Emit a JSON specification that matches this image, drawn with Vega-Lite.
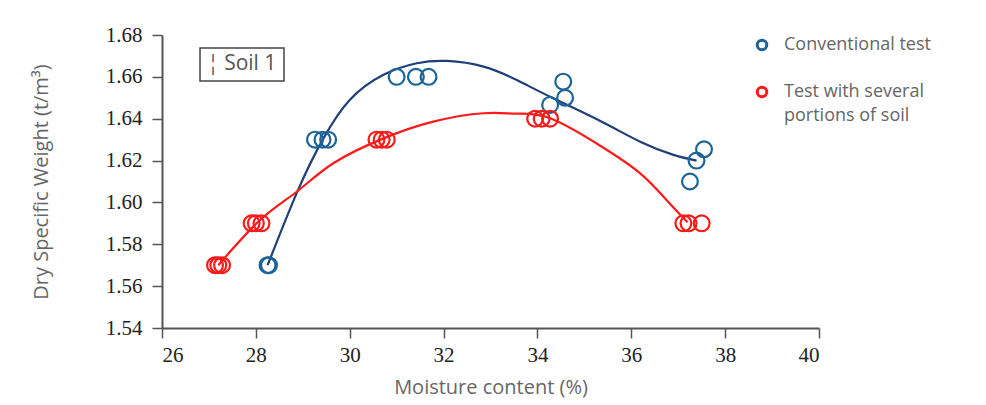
{
  "$schema": "https://vega.github.io/schema/vega-lite/v6.json",
  "width": 657,
  "height": 293,
  "autosize": "none",
  "padding": {"left": 162, "top": 35, "right": 167, "bottom": 77},
  "background": "white",
  "config": {
    "view": {"stroke": null},
    "style": {"guide-label": {"lineHeight": 24}},
    "axis": {
      "grid": false,
      "domainColor": "#555555",
      "domainWidth": 2,
      "tickColor": "#555555",
      "tickWidth": 1.5,
      "tickSize": 10,
      "labelFont": "Liberation Serif",
      "labelFontSize": 21,
      "labelColor": "#222222",
      "titleFont": "Open Sans",
      "titleFontSize": 20,
      "titleFontWeight": "normal",
      "titleColor": "#666666"
    }
  },
  "datasets": {
    "pts": [
      {"m": 28.25, "w": 1.57, "s": "Conventional test"},
      {"m": 28.28, "w": 1.57, "s": "Conventional test"},
      {"m": 29.26, "w": 1.63, "s": "Conventional test"},
      {"m": 29.42, "w": 1.63, "s": "Conventional test"},
      {"m": 29.54, "w": 1.63, "s": "Conventional test"},
      {"m": 31.0, "w": 1.66, "s": "Conventional test"},
      {"m": 31.41, "w": 1.66, "s": "Conventional test"},
      {"m": 31.68, "w": 1.66, "s": "Conventional test"},
      {"m": 34.27, "w": 1.6466, "s": "Conventional test"},
      {"m": 34.55, "w": 1.6577, "s": "Conventional test"},
      {"m": 34.59, "w": 1.65, "s": "Conventional test"},
      {"m": 37.25, "w": 1.61, "s": "Conventional test"},
      {"m": 37.39, "w": 1.62, "s": "Conventional test"},
      {"m": 37.55, "w": 1.6254, "s": "Conventional test"},
      {"m": 27.13, "w": 1.57, "s": "Test with several portions of soil"},
      {"m": 27.2, "w": 1.57, "s": "Test with several portions of soil"},
      {"m": 27.28, "w": 1.57, "s": "Test with several portions of soil"},
      {"m": 27.91, "w": 1.59, "s": "Test with several portions of soil"},
      {"m": 28.0, "w": 1.59, "s": "Test with several portions of soil"},
      {"m": 28.12, "w": 1.59, "s": "Test with several portions of soil"},
      {"m": 30.57, "w": 1.63, "s": "Test with several portions of soil"},
      {"m": 30.68, "w": 1.63, "s": "Test with several portions of soil"},
      {"m": 30.79, "w": 1.63, "s": "Test with several portions of soil"},
      {"m": 33.95, "w": 1.64, "s": "Test with several portions of soil"},
      {"m": 34.09, "w": 1.64, "s": "Test with several portions of soil"},
      {"m": 34.27, "w": 1.64, "s": "Test with several portions of soil"},
      {"m": 37.11, "w": 1.59, "s": "Test with several portions of soil"},
      {"m": 37.22, "w": 1.59, "s": "Test with several portions of soil"},
      {"m": 37.5, "w": 1.59, "s": "Test with several portions of soil"}
    ],
    "curves": [
      {"m": 28.25, "w": 1.57, "c": "blue"},
      {"m": 28.9, "w": 1.606, "c": "blue"},
      {"m": 29.44, "w": 1.6306, "c": "blue"},
      {"m": 30.0, "w": 1.649, "c": "blue"},
      {"m": 30.72, "w": 1.661, "c": "blue"},
      {"m": 31.43, "w": 1.6665, "c": "blue"},
      {"m": 32.07, "w": 1.6676, "c": "blue"},
      {"m": 32.85, "w": 1.6649, "c": "blue"},
      {"m": 33.56, "w": 1.6585, "c": "blue"},
      {"m": 34.27, "w": 1.6505, "c": "blue"},
      {"m": 35.33, "w": 1.639, "c": "blue"},
      {"m": 36.19, "w": 1.629, "c": "blue"},
      {"m": 36.9, "w": 1.6227, "c": "blue"},
      {"m": 37.39, "w": 1.62, "c": "blue"},
      {"m": 27.2, "w": 1.57, "c": "red"},
      {"m": 28.09, "w": 1.5916, "c": "red"},
      {"m": 28.87, "w": 1.6051, "c": "red"},
      {"m": 29.65, "w": 1.6187, "c": "red"},
      {"m": 30.72, "w": 1.6306, "c": "red"},
      {"m": 31.78, "w": 1.6386, "c": "red"},
      {"m": 32.85, "w": 1.6426, "c": "red"},
      {"m": 33.56, "w": 1.6424, "c": "red"},
      {"m": 34.27, "w": 1.6402, "c": "red"},
      {"m": 35.33, "w": 1.6272, "c": "red"},
      {"m": 36.19, "w": 1.6139, "c": "red"},
      {"m": 36.75, "w": 1.6012, "c": "red"},
      {"m": 37.2, "w": 1.5905, "c": "red"}
    ],
    "label": [
      {"x1": 26.81, "x2": 28.6, "y1": 1.6738, "y2": 1.658, "xm": 27.7, "ym": 1.666, "t": "¦ Soil 1"}
    ]
  },
  "layer": [
    {
      "data": {"name": "label"},
      "mark": {"type": "rect", "fill": "white", "stroke": "#444444", "strokeWidth": 1.5},
      "encoding": {
        "x": {"field": "x1", "type": "quantitative", "scale": {"domain": [26, 40]}},
        "x2": {"field": "x2"},
        "y": {"field": "y1", "type": "quantitative", "scale": {"domain": [1.54, 1.68]}},
        "y2": {"field": "y2"}
      }
    },
    {
      "data": {"name": "label"},
      "mark": {"type": "text", "font": "Open Sans", "fontSize": 21, "color": "#555555"},
      "encoding": {
        "x": {"field": "xm", "type": "quantitative"},
        "y": {"field": "ym", "type": "quantitative"},
        "text": {"field": "t"}
      }
    },
    {
      "data": {"name": "curves"},
      "mark": {"type": "line", "interpolate": "natural", "strokeWidth": 2.2},
      "encoding": {
        "x": {"field": "m", "type": "quantitative"},
        "y": {"field": "w", "type": "quantitative"},
        "stroke": {
          "field": "c", "type": "nominal", "legend": null,
          "scale": {"domain": ["blue", "red"], "range": ["#1f3f7a", "#ff1a1a"]}
        }
      }
    },
    {
      "data": {"name": "pts"},
      "mark": {"type": "point", "shape": "circle", "filled": false, "size": 250, "strokeWidth": 2.2, "opacity": 1},
      "encoding": {
        "x": {
          "field": "m", "type": "quantitative",
          "scale": {"domain": [26, 40]},
          "axis": {"values": [26, 28, 30, 32, 34, 36, 38, 40], "title": "Moisture content (%)", "titlePadding": 12, "labelPadding": 6}
        },
        "y": {
          "field": "w", "type": "quantitative",
          "scale": {"domain": [1.54, 1.68], "zero": false},
          "axis": {"values": [1.54, 1.56, 1.58, 1.6, 1.62, 1.64, 1.66, 1.68], "format": ".2f", "title": "Dry Specific Weight (t/m³)", "titlePadding": 54, "labelPadding": 10}
        },
        "color": {
          "field": "s", "type": "nominal",
          "scale": {"domain": ["Conventional test", "Test with several portions of soil"], "range": ["#1b6399", "#ff1a1a"]},
          "legend": {
            "title": null,
            "orient": "none",
            "legendX": 591,
            "legendY": 1,
            "labelFont": "Open Sans",
            "labelFontSize": 18,
            "labelColor": "#666666",
            "labelLimit": 300,
            "symbolType": "circle",
            "symbolSize": 90,
            "symbolStrokeWidth": 3,
            "symbolFillColor": "transparent",
            "rowPadding": 25,
            "labelOffset": 13,
            "labelExpr": "datum.label == 'Test with several portions of soil' ? ['Test with several', 'portions of soil'] : datum.label"
          }
        }
      }
    }
  ]
}
